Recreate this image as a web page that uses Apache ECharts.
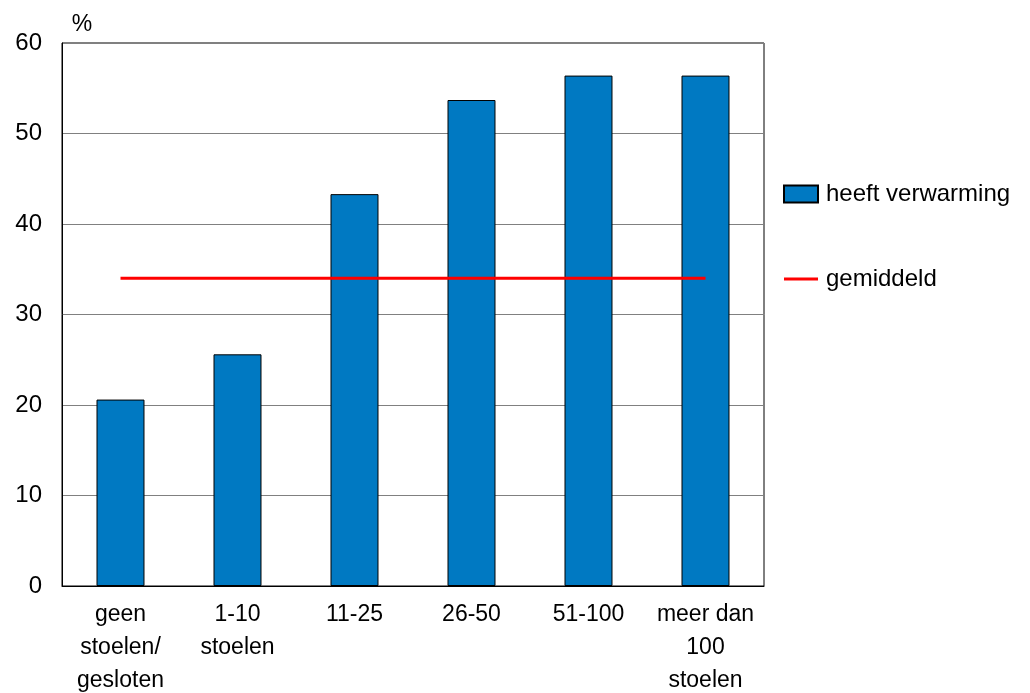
<!DOCTYPE html>
<html>
<head>
<meta charset="utf-8">
<script src="https://cdn.jsdelivr.net/npm/echarts@6/dist/echarts.min.js"></script>
<style>html,body{margin:0;padding:0;background:#fff}#c{width:1030px;height:693px}</style>
</head>
<body>
<div id="c"></div>
<script>
const categories = ['geen\nstoelen/\ngesloten', '1-10\nstoelen', '11-25', '26-50', '51-100', 'meer dan\n100\nstoelen'];
const heeftVerwarming = [20.6, 25.6, 43.3, 53.7, 56.4, 56.4];
const gemiddeld = [34.0, 34.0, 34.0, 34.0, 34.0, 34.0];
const yTicks = { min: 0, max: 60, interval: 10 };

const chart = echarts.init(document.getElementById('c'));
const font = 'Liberation Sans, Arial, sans-serif';
chart.setOption({
  animation: false,
  backgroundColor: '#fff',
  grid: { left: 62, top: 43, width: 702, height: 543, show: true, borderColor: '#000', borderWidth: 1, containLabel: false, outerBoundsMode: 'none' },
  legend: {
    orient: 'vertical', left: 783, top: 182, padding: 0, itemGap: 61, itemWidth: 34, itemHeight: 17,
    textStyle: { color: '#000', fontSize: 24, fontFamily: font, padding: [0, 0, 0, 3] },
    data: [
      { name: 'heeft verwarming', icon: 'rect' },
      { name: 'gemiddeld', icon: 'path://M0,0L36,0L36,3L0,3Z', itemStyle: { color: '#FF0000', borderWidth: 0 } }
    ]
  },
  xAxis: {
    type: 'category', data: categories,
    axisLine: { lineStyle: { color: '#000', width: 1 } },
    axisTick: { show: false },
    axisLabel: { color: '#000', fontSize: 23, fontFamily: font, lineHeight: 33, margin: 12, interval: 0 }
  },
  yAxis: {
    type: 'value', min: yTicks.min, max: yTicks.max, interval: yTicks.interval,
    name: '%', nameLocation: 'end', nameGap: 7,
    nameTextStyle: { color: '#000', fontSize: 23, fontFamily: font, padding: [0, 0, 0, 40] },
    axisLine: { show: true, lineStyle: { color: '#000', width: 1 } },
    axisTick: { show: false },
    axisLabel: { color: '#000', fontSize: 24, fontFamily: font, margin: 20, padding: [9, 0, 0, 0] },
    splitLine: { show: true, lineStyle: { color: '#808080', width: 1 } }
  },
  series: [
    {
      name: 'heeft verwarming', type: 'bar', data: heeftVerwarming, barWidth: '41%',
      itemStyle: { color: '#0079C2', borderColor: '#000', borderWidth: 1 }
    },
    {
      name: 'gemiddeld', type: 'line', data: gemiddeld, symbol: 'none',
      lineStyle: { color: '#FF0000', width: 3 }, itemStyle: { color: '#FF0000' }
    }
  ]
});
</script>
</body>
</html>
